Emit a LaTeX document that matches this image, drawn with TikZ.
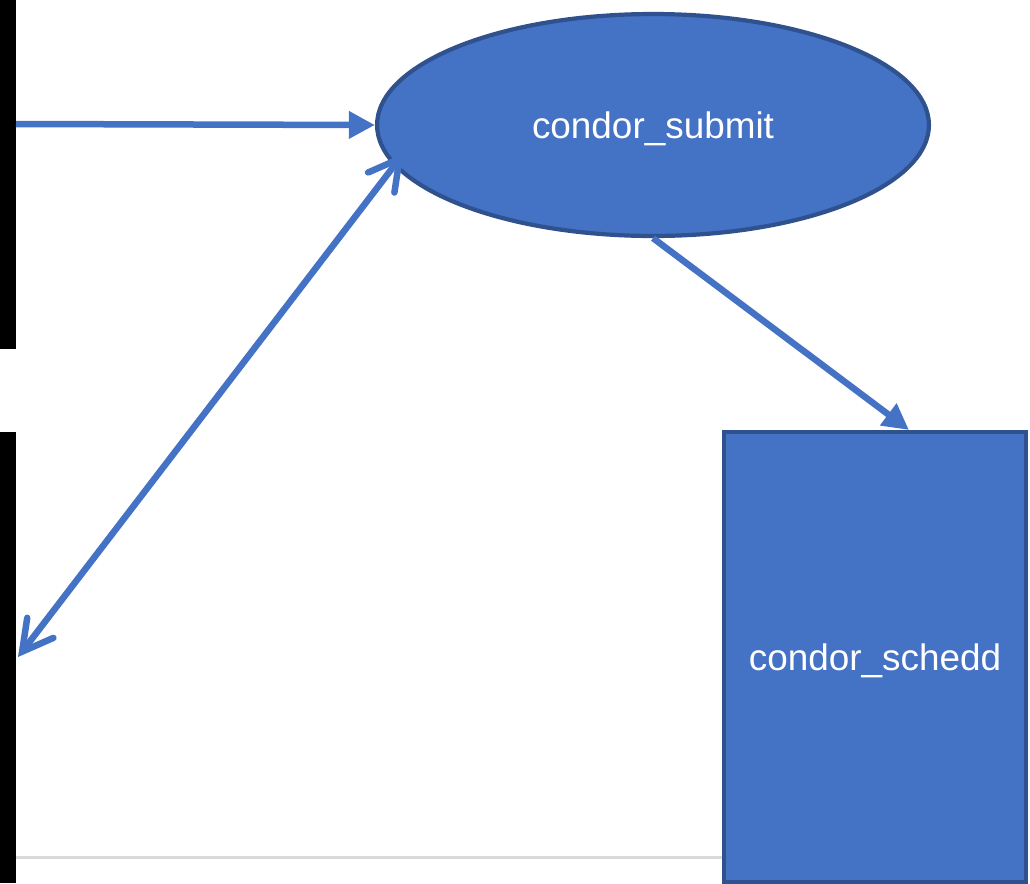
\documentclass[tikz,border=0pt]{standalone}
\usepackage{fontspec}
\setmainfont{Liberation Sans}
\usetikzlibrary{positioning}
\usetikzlibrary{arrows.meta}
\usetikzlibrary{shapes.geometric}
\definecolor{fillblue}{RGB}{68,114,196}
\definecolor{edgeblue}{RGB}{47,82,143}
\definecolor{rulegray}{RGB}{217,217,217}

\begin{document}
\begin{tikzpicture}[x=0.02cm, y=-0.02cm,
    proc/.style={draw=edgeblue, line width=2.4pt, fill=fillblue, text=white, inner sep=0pt,
        text height=19pt, font=\fontsize{21}{25}\selectfont},
    link/.style={draw=fillblue, line width=3.7pt},
    head/.style={-{Triangle[length=0.52cm, width=0.52cm]}},
    barbs/.style={{Straight Barb[length=0.6cm, width=0.66cm, line cap=round]}-{Straight Barb[length=0.6cm, width=0.66cm, line cap=round]}}]
    \useasboundingbox (0,0) rectangle (1030,883);

    \fill[black] (0,0) rectangle (16,349);
    \fill[black] (0,432) rectangle (16,883);
    \draw[rulegray, line width=1.7pt] (16,857) -- (740,857);

    \node[proc, ellipse, minimum width=11.04cm, minimum height=4.44cm] (submit) at (653,125) {condor\_submit};
    \node[proc, rectangle, minimum width=6.04cm, minimum height=9cm] (schedd) at (875,657) {condor\_schedd};

    \coordinate (feed) at (16,124);
    \coordinate (back) at (18,657);

    \draw[link, head] (feed) -- (submit.west);
    \draw[link, barbs, shorten >=-0.32cm] (back) -- (submit.189);
    \draw[link, head] (submit.south) -- ([xshift=0.68cm]schedd.north);
\end{tikzpicture}
\end{document}
